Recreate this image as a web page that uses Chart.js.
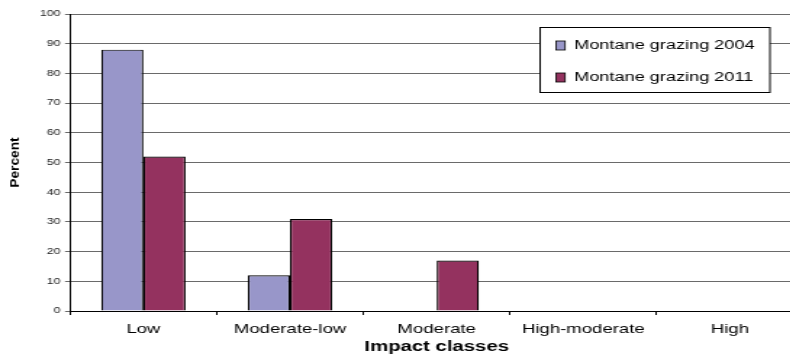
<!DOCTYPE html>
<html>
<head>
<meta charset="utf-8">
<script src="https://cdn.jsdelivr.net/npm/chart.js@4"></script>
<style>
  html, body { margin: 0; padding: 0; background: #fff; overflow: hidden; }
  /* the chart is laid out narrow and widened horizontally, giving the wide lettering */
  #wrap { width: 554px; height: 356px; position: relative; transform: scaleX(1.45); transform-origin: 0 0; }
</style>
</head>
<body>
<div id="wrap"><canvas id="c"></canvas></div>
<script>
const categories = ['Low', 'Moderate-low', 'Moderate', 'High-moderate', 'High'];
const grazing2004 = [88, 12, 0, 0, 0];
const grazing2011 = [52, 31, 17, 0, 0];
const seriesNames = ['Montane grazing 2004', 'Montane grazing 2011'];
const seriesColors = ['#9896c9', '#94325f'];
const yTitle = 'Percent';
const xTitle = 'Impact classes';
const FONT = '"Liberation Sans", Arial, sans-serif';

// Boxed legend inside the plot (upper right) and the rotated y-axis title
const decorations = {
  id: 'decorations',
  afterDraw(chart) {
    const ctx = chart.ctx;
    const x = 372.5, y = 27, w = 158.5, h = 65;
    ctx.save();
    ctx.fillStyle = '#fff';
    ctx.fillRect(x, y, w, h);
    ctx.strokeStyle = '#000';
    ctx.lineWidth = 1;
    ctx.strokeRect(x, y + 0.5, w, h);
    ctx.font = '12.5px ' + FONT;
    ctx.textBaseline = 'middle';
    chart.data.datasets.forEach((ds, i) => {
      const cy = y + 18 + i * 32;
      ctx.fillStyle = ds.backgroundColor;
      ctx.fillRect(x + 11, cy - 4, 6.2, 9);
      ctx.strokeStyle = '#000';
      ctx.lineWidth = 0.8;
      ctx.strokeRect(x + 11, cy - 4, 6.2, 9);
      ctx.fillStyle = '#000';
      ctx.fillText(ds.label, x + 23.5, cy + 1);
    });

    // y-axis title, rotated and drawn long and narrow
    const area = chart.chartArea;
    ctx.translate(10.3, (area.top + area.bottom) / 2);
    ctx.rotate(-Math.PI / 2);
    ctx.scale(1.43, 1);
    ctx.font = 'bold 9.6px ' + FONT;
    ctx.textAlign = 'center';
    ctx.textBaseline = 'middle';
    ctx.fillStyle = '#000';
    ctx.fillText(yTitle, 0, 0);
    ctx.restore();
  }
};

new Chart(document.getElementById('c'), {
  type: 'bar',
  data: {
    labels: categories,
    datasets: [
      { label: seriesNames[0], data: grazing2004, backgroundColor: seriesColors[0], borderColor: '#000', borderWidth: 1.2 },
      { label: seriesNames[1], data: grazing2011, backgroundColor: seriesColors[1], borderColor: '#000', borderWidth: 1.2 }
    ]
  },
  options: {
    responsive: true,
    maintainAspectRatio: false,
    animation: false,
    layout: { padding: { top: 14, right: 0, left: 0, bottom: 0 } },
    plugins: { legend: { display: false }, tooltip: { enabled: false } },
    datasets: { bar: { barPercentage: 1, categoryPercentage: 0.575 } },
    scales: {
      x: {
        grid: { offset: true, drawOnChartArea: false, drawTicks: true, tickLength: 4, color: '#000' },
        border: { color: '#000', width: 1 },
        ticks: { color: '#000', font: { family: FONT, size: 12.8 }, padding: 7, maxRotation: 0, autoSkip: false },
        title: { display: true, text: xTitle, color: '#000', font: { family: FONT, size: 14, weight: 'bold' }, padding: { top: 1, bottom: 0 } },
        afterFit(scale) { scale.height = 45; }
      },
      y: {
        min: 0, max: 100,
        ticks: { stepSize: 10, color: '#222', font: { family: FONT, size: 8.5 }, padding: 3 },
        grid: { color: '#6a6a6a', lineWidth: 1, drawTicks: true, tickLength: 3.5 },
        border: { color: '#000', width: 1 },
        afterFit(scale) { scale.width = 48.3; }
      }
    }
  },
  plugins: [decorations]
});
</script>
</body>
</html>
